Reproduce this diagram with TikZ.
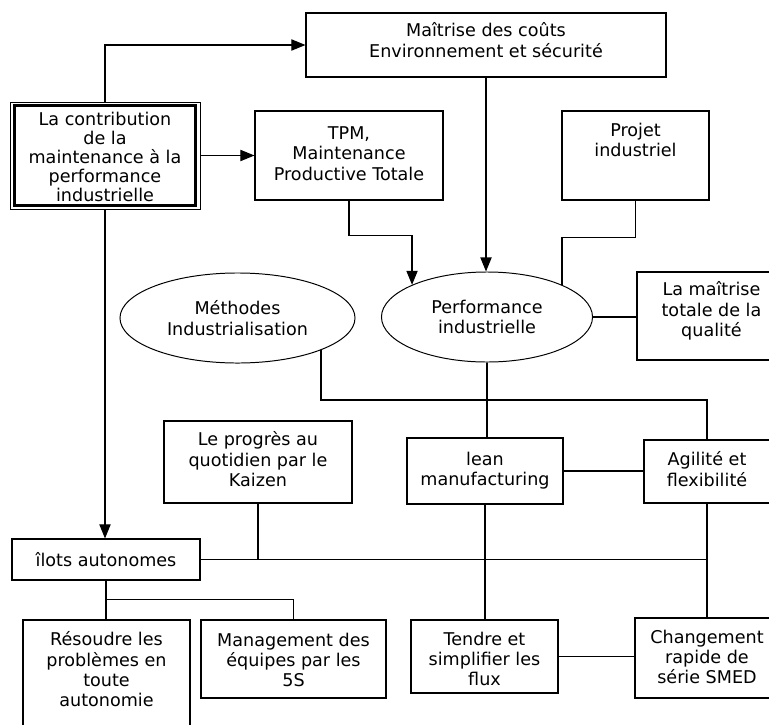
\documentclass[tikz,border=0pt]{standalone}
\usepackage{fontspec}
\setmainfont{DejaVu Sans}
\usetikzlibrary{arrows.meta,shapes.geometric,fit,calc}

\begin{document}
\begin{tikzpicture}[
  x=0.025cm, y=-0.025cm,
  box/.style={draw, line width=0.8pt, inner sep=0pt},
  oval/.style={
    draw, ellipse, line width=0.7pt, inner sep=0pt,
    font=\fontsize{12.5}{14.5}\selectfont, align=center,
  },
  txt/.style={font=\fontsize{12.5}{14.5}\selectfont, align=center, inner sep=0pt, anchor=north},
  link/.style={line width=0.8pt},
  arr/.style={link, -{Triangle[length=10pt, width=8pt]}},
]

% page 769 x 724, y goes down
\useasboundingbox (0,0) rectangle (769,724);
\clip (0,0) rectangle (769,724);

% top row
\node[box, fit={(306,13) (666,77)}] (cout) {};
\node[txt] (cout-t) at ($(cout.north)+(0,10)$) {Maîtrise des coûts\\Environnement et sécurité};

\node[box, line width=0.6pt, fit={(10,102) (200,209)}] (contrib) {};
\draw[line width=1.6pt] ($(contrib.south west)+(5,-4)$) rectangle ($(contrib.north east)+(-5,4)$);
\node[txt, font=\fontsize{12.5}{13.5}\selectfont] (contrib-t) at ($(contrib.north)+(0,10)$)
  {La contribution\\de la\\maintenance à la\\performance\\industrielle};

\node[box, fit={(255,111) (443,200)}] (tpm) {};
\node[txt] (tpm-t) at ($(tpm.north)+(0,16)$) {TPM,\\Maintenance\\Productive Totale};

\node[box, fit={(562,111) (709,200)}] (projet) {};
\node[txt] (projet-t) at ($(projet.north)+(0,12)$) {Projet\\industriel};

% ellipses
\node[oval, minimum width=5.875cm, minimum height=2.25cm] (methodes) at (237.5,318) {Méthodes\\Industrialisation};
\node[oval, minimum width=5.275cm, minimum height=2.25cm] (perf) at (487,317) {Performance\\industrielle};

\node[box, fit={(637,272) (786,360)}] (qualite) {};
\node[txt] (qualite-t) at ($(qualite.north)+(0,10)$) {La maîtrise\\totale de la\\qualité};

% middle row
\node[box, fit={(164,421) (352,503)}] (kaizen) {};
\node[txt] (kaizen-t) at ($(kaizen.north)+(0,11)$) {Le progrès au\\quotidien par le\\Kaizen};

\node[box, fit={(407,438) (563,504)}] (lean) {};
\node[txt] (lean-t) at ($(lean.north)+(0,14)$) {lean\\manufacturing};

\node[box, fit={(644,440) (770,503)}] (agilite) {};
\node[txt] (agilite-t) at ($(agilite.north)+(0,12)$) {Agilité et\\flexibilité};

\node[box, fit={(12,539) (200,580)}] (ilots) {};
\node[txt, anchor=center] (ilots-t) at (ilots.center) {îlots autonomes};

% bottom row
\node[box, fit={(23,620) (190,745)}] (resoudre) {};
\node[txt] (resoudre-t) at ($(resoudre.north)+(0,12)$) {Résoudre les\\problèmes en\\toute\\autonomie};

\node[box, fit={(201,620) (386,698)}] (management) {};
\node[txt] (management-t) at ($(management.north)+(0,13)$) {Management des\\équipes par les\\5S};

\node[box, fit={(411,620) (558,693)}] (tendre) {};
\node[txt] (tendre-t) at ($(tendre.north)+(0,12)$) {Tendre et\\simplifier les\\flux};

\node[box, fit={(635,618) (779,698)}] (changement) {};
\node[txt] (changement-t) at ($(changement.north)+(0,12)$) {Changement\\rapide de\\série SMED};

% arrows
\draw[arr] (contrib.north) |- (cout.west);
\draw[arr] (contrib) -- (tpm);
\draw[arr] (contrib.south) -- (contrib.south |- ilots.north);
\draw[arr] (cout.south) -- (cout.south |- perf.north);
\draw[arr] (tpm.south) -- ++(0,35) -| (perf.north west);

% plain links
\coordinate (bus1) at (0,400);
\draw[link] (projet.south) -- ++(0,37) -| (perf.north east);
\draw[link] (perf.east) -- (perf.east -| qualite.west);
\draw[link] (methodes.south east) |- (bus1 -| agilite.north) -- (agilite.north);
\draw[link] (perf.south) -- (perf.south |- lean.north);
\draw[link] (lean.east) -- (lean.east -| agilite.west);
\draw[link] (ilots.east) -- (ilots.east -| agilite.south);
\draw[link] (kaizen.south) -- (kaizen.south |- ilots.east);
\draw[link] (agilite.south) -- (changement.north);
\draw[link] (lean.south) -- (lean.south |- tendre.north);
\draw[link] (tendre.east) -- (tendre.east -| changement.west);
\draw[link] (ilots.south) -- (ilots.south |- resoudre.north);
\draw[link] (ilots.south) -- ++(0,19) -| (management.north);

\end{tikzpicture}
\end{document}
